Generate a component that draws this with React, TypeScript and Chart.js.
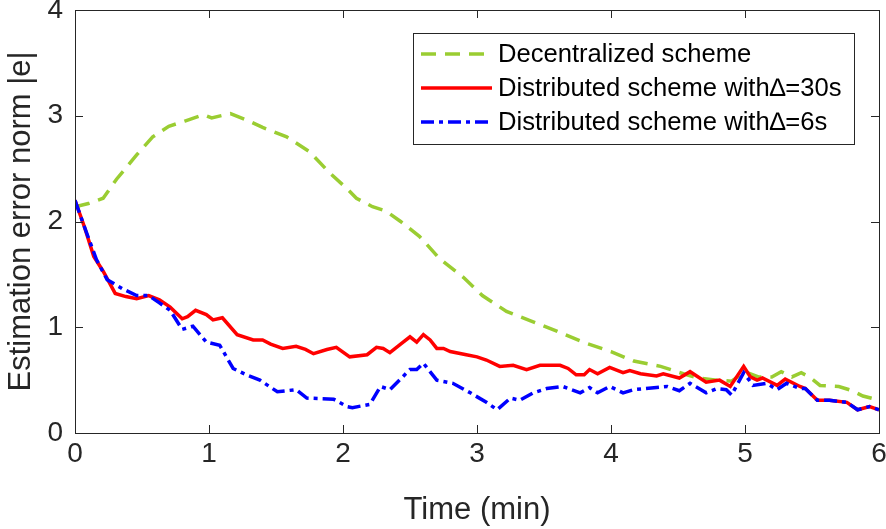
import React, { useEffect, useRef } from "react";
import { Chart, registerables } from "chart.js";

Chart.register(...registerables);

const FONT = "'Liberation Sans', Arial, Helvetica, sans-serif";

const xTicks = [0, 1, 2, 3, 4, 5, 6];
const yTicks = [0, 1, 2, 3, 4];
const xTitle = "Time (min)";
const yTitle = "Estimation error norm |e|";

const seriesNames = [
  "Decentralized scheme",
  "Distributed scheme with\u2206=30s",
  "Distributed scheme with\u2206=6s",
];

const decT = [0, 0.1, 0.21, 0.31, 0.46, 0.58, 0.7, 0.82, 0.96, 1.02, 1.16, 1.28, 1.4, 1.58, 1.75, 1.9, 2.03, 2.1, 2.22, 2.32, 2.43, 2.57, 2.72, 2.9, 3.04, 3.22, 3.4, 3.6, 3.79, 4.0, 4.17, 4.37, 4.54, 4.65, 4.79, 4.9, 5.0, 5.1, 5.2, 5.27, 5.35, 5.42, 5.48, 5.56, 5.7, 5.8, 5.88, 6.0];
const decV = [2.14, 2.17, 2.22, 2.4, 2.63, 2.8, 2.9, 2.95, 3.01, 2.98, 3.02, 2.96, 2.89, 2.8, 2.66, 2.46, 2.31, 2.22, 2.14, 2.1, 2.0, 1.86, 1.65, 1.47, 1.3, 1.15, 1.06, 0.96, 0.86, 0.77, 0.68, 0.63, 0.56, 0.52, 0.5, 0.49, 0.58, 0.53, 0.53, 0.58, 0.53, 0.57, 0.53, 0.45, 0.44, 0.4, 0.35, 0.31];

const d30T = [0, 0.07, 0.14, 0.21, 0.3, 0.38, 0.46, 0.55, 0.63, 0.71, 0.8, 0.84, 0.9, 0.98, 1.03, 1.1, 1.21, 1.33, 1.4, 1.46, 1.55, 1.65, 1.72, 1.78, 1.88, 1.95, 2.05, 2.18, 2.25, 2.3, 2.35, 2.43, 2.5, 2.55, 2.6, 2.65, 2.7, 2.75, 2.8, 2.92, 3.0, 3.07, 3.17, 3.27, 3.37, 3.47, 3.62, 3.68, 3.74, 3.8, 3.84, 3.9, 3.99, 4.09, 4.14, 4.22, 4.34, 4.39, 4.51, 4.59, 4.71, 4.81, 4.89, 4.99, 5.04, 5.09, 5.13, 5.24, 5.3, 5.41, 5.45, 5.54, 5.63, 5.76, 5.84, 5.93, 6.0];
const d30V = [2.2, 1.95, 1.67, 1.53, 1.32, 1.29, 1.27, 1.3, 1.26, 1.19, 1.08, 1.1, 1.16, 1.12, 1.07, 1.09, 0.93, 0.88, 0.88, 0.84, 0.8, 0.82, 0.79, 0.75, 0.79, 0.81, 0.72, 0.74, 0.81, 0.8, 0.76, 0.84, 0.91, 0.86, 0.93, 0.88, 0.8, 0.8, 0.77, 0.74, 0.72, 0.69, 0.63, 0.64, 0.6, 0.64, 0.64, 0.61, 0.55, 0.55, 0.6, 0.56, 0.62, 0.57, 0.59, 0.56, 0.54, 0.56, 0.52, 0.58, 0.48, 0.5, 0.44, 0.63, 0.53, 0.5, 0.52, 0.45, 0.51, 0.44, 0.42, 0.31, 0.31, 0.29, 0.22, 0.25, 0.22];

const d6T = [0, 0.07, 0.16, 0.24, 0.36, 0.46, 0.55, 0.63, 0.71, 0.8, 0.88, 0.98, 1.08, 1.18, 1.28, 1.38, 1.51, 1.65, 1.73, 1.93, 2.03, 2.07, 2.2, 2.28, 2.35, 2.5, 2.55, 2.6, 2.7, 2.82, 2.95, 3.07, 3.15, 3.25, 3.32, 3.42, 3.52, 3.64, 3.77, 3.84, 3.9, 3.99, 4.09, 4.17, 4.34, 4.42, 4.51, 4.59, 4.71, 4.79, 4.86, 4.9, 4.99, 5.06, 5.16, 5.24, 5.31, 5.41, 5.45, 5.54, 5.63, 5.76, 5.84, 5.93, 6.0];
const d6V = [2.2, 1.95, 1.64, 1.45, 1.36, 1.3, 1.3, 1.23, 1.16, 0.98, 1.01, 0.86, 0.83, 0.61, 0.55, 0.5, 0.39, 0.41, 0.33, 0.32, 0.25, 0.24, 0.27, 0.44, 0.41, 0.6, 0.6, 0.66, 0.5, 0.47, 0.38, 0.29, 0.22, 0.33, 0.31, 0.38, 0.42, 0.44, 0.38, 0.43, 0.38, 0.44, 0.38, 0.41, 0.43, 0.44, 0.4, 0.47, 0.38, 0.42, 0.41, 0.36, 0.57, 0.45, 0.47, 0.41, 0.47, 0.42, 0.42, 0.31, 0.31, 0.29, 0.22, 0.25, 0.22];

const GREEN = "#9ACD32";
const RED = "#FF0000";
const BLUE = "#0000FF";
const AXIS = "#262626";

const toPts = (t: number[], v: number[]) => t.map((x, i) => ({ x, y: v[i] }));

export default function App() {
  const ref = useRef<HTMLCanvasElement | null>(null);

  useEffect(() => {
    if (!ref.current) return;

    const frame = {
      id: "frame",
      afterDatasetsDraw(chart: any) {
        const { ctx, chartArea: a, scales } = chart;
        ctx.save();
        ctx.strokeStyle = AXIS;
        ctx.lineWidth = 1;
        ctx.strokeRect(Math.round(a.left) + 0.5, Math.round(a.top) + 0.5, Math.round(a.right - a.left), Math.round(a.bottom - a.top));
        const tl = 8;
        ctx.beginPath();
        xTicks.forEach((v) => {
          const px = Math.round(scales.x.getPixelForValue(v)) + 0.5;
          ctx.moveTo(px, a.bottom);
          ctx.lineTo(px, a.bottom - tl);
          ctx.moveTo(px, a.top);
          ctx.lineTo(px, a.top + tl);
        });
        yTicks.forEach((v) => {
          const py = Math.round(scales.y.getPixelForValue(v)) + 0.5;
          ctx.moveTo(a.left, py);
          ctx.lineTo(a.left + tl, py);
          ctx.moveTo(a.right, py);
          ctx.lineTo(a.right - tl, py);
        });
        ctx.stroke();
        ctx.restore();
      },
      afterDraw(chart: any) {
        const { ctx } = chart;
        ctx.save();
        const bx = 413, by = 33, bw = 441, bh = 111;
        ctx.fillStyle = "#ffffff";
        ctx.fillRect(bx, by, bw, bh);
        ctx.strokeStyle = AXIS;
        ctx.lineWidth = 1;
        ctx.strokeRect(bx + 0.5, by + 0.5, bw, bh);
        const rows = [54, 88, 122];
        chart.data.datasets.forEach((ds: any, i: number) => {
          const y = rows[i];
          ctx.beginPath();
          ctx.strokeStyle = ds.borderColor;
          ctx.lineWidth = ds.borderWidth;
          ctx.lineCap = "butt";
          ctx.setLineDash(ds.borderDash || []);
          ctx.moveTo(421, y);
          ctx.lineTo(492, y);
          ctx.stroke();
          ctx.setLineDash([]);
          ctx.fillStyle = "#000000";
          ctx.font = `25.6px ${FONT}`;
          ctx.textBaseline = "middle";
          ctx.textAlign = "left";
          ctx.fillText(ds.label, 498, y + 1);
        });
        ctx.restore();
      },
    };

    const chart = new Chart(ref.current, {
      type: "line",
      data: {
        datasets: [
          {
            label: seriesNames[0],
            data: toPts(decT, decV),
            borderColor: GREEN,
            borderWidth: 3.5,
            borderDash: [15, 9],
            pointRadius: 0,
            tension: 0,
            order: 3,
          },
          {
            label: seriesNames[1],
            data: toPts(d30T, d30V),
            borderColor: RED,
            borderWidth: 3.5,
            pointRadius: 0,
            tension: 0,
            order: 2,
          },
          {
            label: seriesNames[2],
            data: toPts(d6T, d6V),
            borderColor: BLUE,
            borderWidth: 3.5,
            borderDash: [13, 5, 4, 5],
            pointRadius: 0,
            tension: 0,
            order: 1,
          },
        ],
      },
      options: {
        responsive: false,
        animation: false,
        devicePixelRatio: 1,
        layout: { padding: { top: 10, right: 7, left: 0, bottom: 0 } },
        plugins: { legend: { display: false }, tooltip: { enabled: false } },
        scales: {
          x: {
            type: "linear",
            min: 0,
            max: 6,
            afterBuildTicks: (s: any) => {
              s.ticks = xTicks.map((v) => ({ value: v }));
            },
            afterFit: (s: any) => {
              s.height = 96;
              s.paddingLeft = 0;
              s.paddingRight = 0;
            },
            grid: { display: false, drawTicks: false },
            border: { display: false },
            ticks: {
              color: AXIS,
              font: { family: FONT, size: 28 },
              padding: 4,
              maxRotation: 0,
              autoSkip: false,
            },
            title: {
              display: true,
              text: xTitle,
              color: AXIS,
              font: { family: FONT, size: 31 },
              padding: { top: 0, bottom: 0 },
            },
          },
          y: {
            type: "linear",
            min: 0,
            max: 4,
            afterBuildTicks: (s: any) => {
              s.ticks = yTicks.map((v) => ({ value: v }));
            },
            afterFit: (s: any) => {
              s.width = 75;
              s.paddingTop = 0;
              s.paddingBottom = 0;
            },
            grid: { display: false, drawTicks: false },
            border: { display: false },
            ticks: {
              color: AXIS,
              font: { family: FONT, size: 28 },
              padding: 12,
              autoSkip: false,
            },
            title: {
              display: true,
              text: yTitle,
              color: AXIS,
              font: { family: FONT, size: 31 },
              padding: { top: 3, bottom: 0 },
            },
          },
        },
      },
      plugins: [frame],
    } as any);

    return () => chart.destroy();
  }, []);

  return (
    <div style={{ position: "fixed", left: 0, top: 0, width: 886, height: 529, background: "#fff" }}>
      <canvas ref={ref} width={886} height={529} style={{ width: 886, height: 529, display: "block" }} />
    </div>
  );
}
